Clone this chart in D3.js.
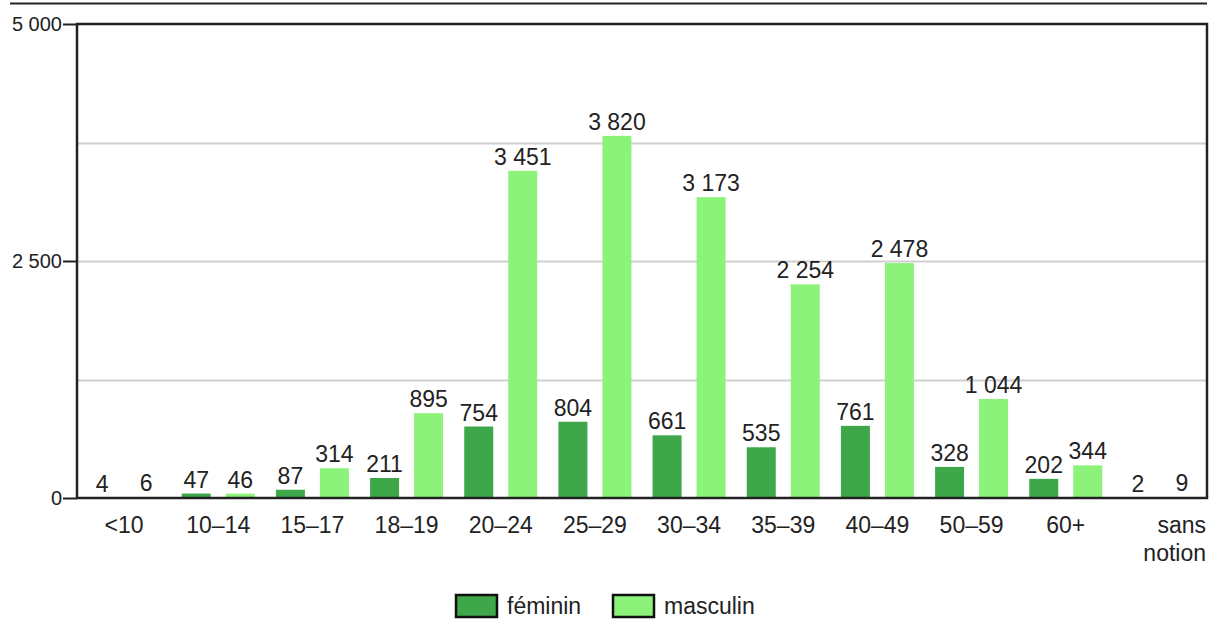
<!DOCTYPE html>
<html>
<head>
<meta charset="utf-8">
<script src="https://cdn.jsdelivr.net/npm/d3@7"></script>
<style>
  html, body { margin: 0; padding: 0; background: #fff; }
  svg { display: block; font-family: "Liberation Sans", Arial, Helvetica, sans-serif; }
</style>
</head>
<body>
<svg id="chart" width="1211" height="621"></svg>
<script>
const categories = ["<10", "10–14", "15–17", "18–19", "20–24", "25–29", "30–34", "35–39", "40–49", "50–59", "60+", "sans notion"];
const feminin = [4, 47, 87, 211, 754, 804, 661, 535, 761, 328, 202, 2];
const masculin = [6, 46, 314, 895, 3451, 3820, 3173, 2254, 2478, 1044, 344, 9];
const seriesNames = ["féminin", "masculin"];
const seriesColors = ["#3ea74a", "#8df27a"];
const yTicks = [0, 2500, 5000];
const yGrid = [1250, 2500, 3750];

(function () {
const svg = d3.select("#chart");
const pLeft = 77, pRight = 1207, pTop = 24, pBottom = 498;

const fmt = d3.formatLocale({ decimal: ",", thousands: " ", grouping: [3], currency: ["", ""] }).format(",d");

const x0 = d3.scaleBand().domain(categories).range([pLeft, pRight]).padding(0);
const bw = x0.bandwidth();
const x1 = d3.scaleBand().domain(seriesNames)
  .range([bw / 2 - 36.5, bw / 2 + 36.5]).paddingInner(0.341).paddingOuter(0);
const y = d3.scaleLinear().domain([0, 5000]).range([pBottom, pTop]);

// top rule
svg.append("line").attr("x1", 10).attr("x2", 1207).attr("y1", 3.5).attr("y2", 3.5)
  .attr("stroke", "#222").attr("stroke-width", 2);

// grid
svg.append("g").selectAll("line").data(yGrid).join("line")
  .attr("x1", pLeft).attr("x2", pRight)
  .attr("y1", d => Math.round(y(d)) + 0.5).attr("y2", d => Math.round(y(d)) + 0.5)
  .attr("stroke", "#cfcfcf").attr("stroke-width", 2);

// bars
const data = categories.map((c, i) => ({ cat: c, vals: [feminin[i], masculin[i]] }));
const groups = svg.append("g").selectAll("g").data(data).join("g")
  .attr("transform", d => `translate(${x0(d.cat)},0)`);

groups.selectAll("rect").data(d => d.vals.map((v, j) => ({ key: seriesNames[j], v, j })))
  .join("rect")
  .attr("x", d => x1(d.key))
  .attr("width", x1.bandwidth())
  .attr("y", d => y(d.v))
  .attr("height", d => pBottom - y(d.v))
  .attr("fill", d => seriesColors[d.j]);

groups.selectAll("text").data(d => d.vals.map((v, j) => ({ key: seriesNames[j], v, j })))
  .join("text")
  .attr("x", d => x1(d.key) + x1.bandwidth() / 2)
  .attr("y", d => y(d.v) - 6)
  .attr("text-anchor", "middle")
  .attr("font-size", 23)
  .attr("fill", "#222")
  .text(d => fmt(d.v));

// frame
svg.append("rect").attr("x", pLeft).attr("y", pTop).attr("width", pRight - pLeft).attr("height", pBottom - pTop)
  .attr("fill", "none").attr("stroke", "#222").attr("stroke-width", 2.5);

// y axis
const yAxis = d3.axisLeft(y).tickValues(yTicks).tickSize(14).tickPadding(1)
  .tickFormat(d => fmt(d));
const gy = svg.append("g").attr("transform", `translate(${pLeft},0)`).call(yAxis);
gy.select(".domain").remove();
gy.selectAll(".tick line").attr("stroke", "#222").attr("stroke-width", 2);
gy.selectAll(".tick text").attr("font-size", 20).attr("fill", "#222")
  .attr("font-family", "'Liberation Sans', Arial, sans-serif");

// x axis labels
const xAxis = d3.axisBottom(x0).tickSize(0).tickPadding(19);
const gx = svg.append("g").attr("transform", `translate(0,${pBottom})`).call(xAxis);
gx.select(".domain").remove();
gx.selectAll(".tick text").attr("font-size", 23).attr("fill", "#222")
  .attr("font-family", "'Liberation Sans', Arial, sans-serif")
  .each(function (d) {
    if (d === "sans notion") {
      const t = d3.select(this);
      const shift = pRight - 1 - x0(d) - bw / 2;
      t.text(null).attr("text-anchor", "end");
      t.append("tspan").attr("x", shift).attr("dy", "0.71em").text("sans");
      t.append("tspan").attr("x", shift).attr("dy", "1.2em").text("notion");
      t.attr("dy", null);
    }
  });

// legend
const legendItems = [
  { name: seriesNames[0], color: seriesColors[0], x: 456 },
  { name: seriesNames[1], color: seriesColors[1], x: 613 }
];
const lg = svg.append("g").selectAll("g").data(legendItems).join("g")
  .attr("transform", d => `translate(${d.x},595)`);
lg.append("rect").attr("width", 41).attr("height", 22)
  .attr("fill", d => d.color).attr("stroke", "#111").attr("stroke-width", 2.5);
lg.append("text").attr("x", 51).attr("y", 19).attr("font-size", 23).attr("fill", "#222")
  .text(d => d.name);
})();
</script>
</body>
</html>
